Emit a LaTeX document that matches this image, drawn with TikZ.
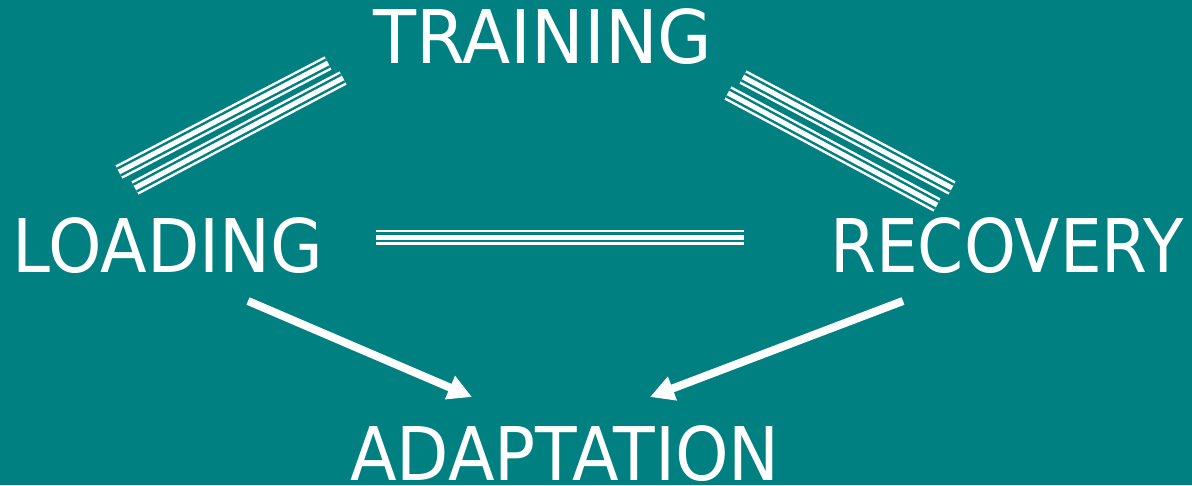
\documentclass[tikz,border=0pt]{standalone}
\usepackage{fontspec}
\usetikzlibrary{arrows.meta}
\newfontfamily\lblfont[FakeStretch=0.92]{DejaVu Sans}
\definecolor{bgteal}{RGB}{0,128,128}
\tikzset{
	word/.style={white, inner sep=0pt, anchor=base, font=\lblfont\fontsize{74}{80}\selectfont},
	tripleline/.style={preaction={draw=white, line width=15pt},
		preaction={draw=bgteal, line width=10pt},
		draw=white, line width=5pt},
	feed/.style={draw=white, line width=8pt, -{Triangle[length=24pt, width=24pt]}}
}
\begin{document}
\begin{tikzpicture}[x=1pt,y=-1pt]
\fill[bgteal] (0,0) rectangle (1192,485);
\useasboundingbox (0,0) rectangle (1192,485);

\node[word] (training) at (543,63) {\scalebox{1.035}[1]{TRAINING}};
\node[word] (loading) at (168,272) {LOADING};
\node[word] (recovery) at (1007,272) {\scalebox{0.97}[1]{RECOVERY}};
\node[word] (adaptation) at (565,480) {ADAPTATION};

% ends of the links
\coordinate (lt1) at (119,172); \coordinate (lt2) at (328,63);
\coordinate (lb1) at (135,188); \coordinate (lb2) at (343,78);
\coordinate (rt1) at (743,77);  \coordinate (rt2) at (952,188);
\coordinate (rb1) at (728,93);  \coordinate (rb2) at (937,205);
\coordinate (mid1) at (376,237); \coordinate (mid2) at (744,237);
\coordinate (fromload) at (248,301); \coordinate (toadapt1) at (472,397);
\coordinate (fromrec) at (903,301);  \coordinate (toadapt2) at (650,397);

\foreach \a\b in {lt1/lt2,lb1/lb2,rt1/rt2,rb1/rb2,mid1/mid2} {
	\draw[tripleline] (\a) -- (\b);
}
\draw[feed] (fromload) -- (toadapt1);
\draw[feed] (fromrec) -- (toadapt2);
\end{tikzpicture}
\end{document}
